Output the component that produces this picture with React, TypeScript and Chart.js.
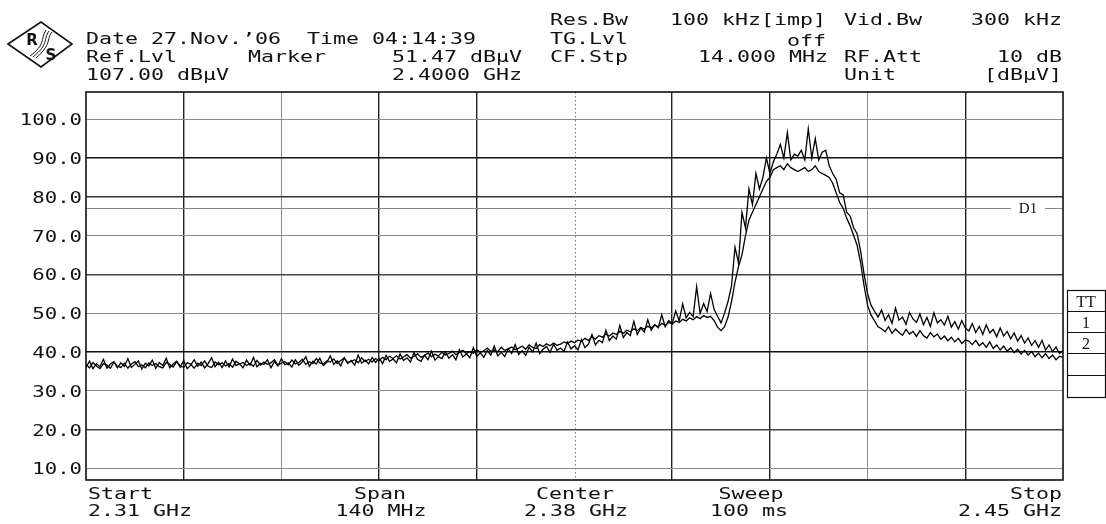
import React, { useEffect, useRef } from 'react';
import { Chart, registerables } from 'chart.js';
Chart.register(...registerables);

// ---- data (dBµV) ----
const FREQ_START = 2310; // MHz
const FREQ_STOP = 2450; // MHz
const X_GRID = [2310, 2324, 2338, 2352, 2366, 2380, 2394, 2408, 2422, 2436, 2450];
const Y_TICKS = [10, 20, 30, 40, 50, 60, 70, 80, 90, 100];
const Y_MIN = 7;
const Y_MAX = 107;
const D1_LEVEL = 77;

const TRACE_1 = [
  // 2310 - 2352 MHz
  36.0, 37.6, 35.7, 37.0, 36.2, 38.1, 35.8, 36.9, 37.5, 35.9, 37.2, 36.3, 38.3, 36.0, 36.8, 37.7, 35.6, 37.1, 36.4, 37.9,
  35.8, 37.3, 36.5, 38.4, 35.9, 36.9, 37.6, 36.1, 37.8, 35.7, 36.6, 38.0, 36.3, 37.4, 35.9, 37.0, 38.5, 36.2, 37.3, 36.0,
  37.7, 36.1, 38.2, 36.5, 37.0, 35.9, 37.9, 36.6, 38.6, 36.2, 37.1, 36.8, 38.0, 35.9, 37.5, 36.4, 38.3, 36.7, 37.2, 36.1,
  38.0, 36.6, 37.4, 38.8, 36.3, 37.6, 36.9, 38.4, 36.5, 37.3, 39.0, 36.8, 37.7, 36.4, 38.5, 37.0, 37.8, 36.6, 39.2, 37.1,
  37.9, 36.9, 38.6, 37.3,
  // 2352 - 2380 MHz
  38.4, 37.0, 39.1, 37.6, 38.2, 37.2, 39.5, 37.8, 38.5, 37.4, 39.8, 38.1, 37.6, 39.2, 38.0, 40.2, 37.9, 38.8, 38.3, 40.0,
  38.4, 39.3, 38.0, 40.6, 38.7, 39.5, 38.5, 41.1, 38.9, 39.8, 38.6, 40.4, 39.2, 41.5, 39.0, 39.9, 38.8, 40.8, 39.6, 41.9,
  39.4, 40.3, 39.1, 41.2, 40.0, 42.3, 39.6, 40.7, 41.4, 39.9, 42.0, 40.4, 41.0, 40.2, 42.6, 40.8,
  // 2380 - 2394 MHz
  41.6, 40.5, 43.2, 41.1, 42.0, 44.5, 41.8, 43.0, 42.4, 45.6, 42.9, 44.1, 43.3, 46.8, 43.7, 45.0, 44.2, 47.9, 44.5, 46.2,
  45.1, 48.3, 45.6, 47.0, 46.2, 49.6, 46.5, 48.1,
  // 2394 - 2401 MHz
  47.3, 50.6, 48.0, 52.4, 48.8, 50.2, 49.1, 56.8, 49.9, 52.5, 50.4, 55.1, 51.0, 49.2, 47.5,
  // rise
  50.0, 53.0, 57.0, 67.0, 63.0, 76.0, 72.0, 82.0, 78.0, 86.0, 82.0, 85.0, 90.0, 86.0, 89.0, 91.0,
  // top
  93.5, 90.0, 96.5, 89.5, 91.0, 90.5, 92.0, 89.5, 97.5, 90.0, 95.0, 89.5, 91.5, 92.0,
  // fall
  88.0, 86.0, 84.5, 81.0, 80.5, 76.0, 75.0, 72.0, 70.5, 66.0, 60.0, 55.0, 52.0, 50.5, 49.0,
  // 2424 - 2450 MHz
  50.8, 48.1, 49.6, 47.4, 51.3, 48.2, 49.0, 47.1, 50.2, 48.5, 47.6, 49.8, 47.0, 48.9, 46.6, 50.1, 47.5, 48.3, 46.9, 49.2,
  46.4, 47.8, 45.9, 48.1, 46.2, 45.4, 47.3, 45.0, 46.6, 44.5, 47.0, 44.9, 45.8, 43.9, 46.2, 44.1, 45.3, 43.4, 44.9, 42.8,
  44.2, 42.3, 43.6, 41.7, 42.9, 41.2, 43.0, 40.5, 41.8, 40.1, 41.3, 39.6, 40.4,
];

const TRACE_2 = [
  // 2310 - 2352 MHz
  36.8, 35.9, 37.3, 36.4, 35.7, 37.0, 36.6, 35.8, 37.4, 36.3, 36.0, 37.1, 35.8, 36.9, 37.5, 36.2, 36.7, 35.9, 37.2, 36.5,
  37.0, 36.2, 35.9, 37.3, 36.8, 36.1, 37.5, 36.4, 36.0, 37.2, 36.9, 35.8, 37.1, 36.5, 37.7, 36.3, 36.0, 37.4, 36.7, 37.2,
  36.4, 37.0, 36.1, 37.6, 36.9, 37.3, 36.5, 37.1, 36.3, 37.8, 36.6, 37.4, 36.8, 37.2, 38.0, 36.6, 37.1, 37.5, 36.7, 37.9,
  36.9, 37.3, 38.1, 36.8, 37.5, 37.0, 38.3, 37.2, 36.9, 37.7, 37.4, 38.2, 37.0, 37.8, 38.4, 37.3, 37.6, 38.0, 37.2, 38.5,
  37.5, 38.1, 37.4, 38.3,
  // 2352 - 2380 MHz
  37.8, 38.6, 38.0, 38.9, 38.3, 39.0, 38.2, 38.7, 39.3, 38.4, 38.9, 39.5, 38.6, 39.1, 39.7, 38.8, 39.4, 39.0, 39.9, 39.2,
  39.6, 40.2, 39.3, 39.9, 40.4, 39.6, 40.1, 39.7, 40.6, 39.9, 40.3, 41.0, 40.1, 40.5, 40.0, 41.2, 40.4, 40.8, 41.3, 40.6,
  41.0, 41.5, 40.7, 41.8, 41.2, 40.9, 41.9, 41.4, 42.1, 41.6, 42.3, 41.7, 42.0, 42.6, 42.2, 42.8,
  // 2380 - 2394 MHz
  42.4, 43.1, 42.7, 43.5, 43.0, 43.9, 43.3, 44.2, 43.8, 44.6, 44.1, 44.9, 44.5, 45.3, 44.8, 45.6, 45.2, 46.0, 45.5, 46.3,
  45.9, 46.6, 46.2, 47.0, 46.5, 47.3, 46.9, 47.6,
  // 2394 - 2401 MHz
  47.2, 48.0, 47.6, 48.4, 48.0, 48.8, 48.3, 49.1, 48.6, 49.4, 48.9, 49.2, 48.1, 46.4, 45.5,
  // rise
  46.5, 49.0, 53.0, 58.0, 62.0, 65.0, 70.0, 74.0, 76.0, 78.0, 80.0, 82.0, 84.0, 85.0, 87.0, 87.5,
  // top
  88.0, 87.0, 88.5, 87.5, 87.0, 86.5, 87.0, 87.5, 86.5, 87.0, 88.0, 86.5, 86.0, 85.5,
  // fall
  85.0, 83.5, 81.0, 78.5, 77.0, 74.5, 72.5, 70.0, 67.5, 63.0, 57.0, 52.0, 49.5, 48.0, 46.5,
  // 2424 - 2450 MHz
  46.0, 45.2, 46.5, 44.8, 45.9, 45.0, 44.3, 45.8, 44.6, 45.3, 44.0, 45.5, 44.2, 43.6, 45.0, 43.9, 44.6, 43.3, 44.1, 42.9,
  43.8, 42.6, 43.5, 42.2, 43.1, 42.8, 41.9, 43.0, 41.6, 42.4, 41.2, 42.6, 40.9, 41.8, 40.5, 41.5, 40.2, 41.1, 39.8, 40.7,
  39.5, 40.4, 39.2, 40.1, 38.8, 39.7, 38.5, 39.6, 38.3, 39.2, 38.0, 38.9, 38.6,
];

const HEADER_TEXT = {
  date: 'Date 27.Nov.’06  Time 04:14:39',
  refLvl: 'Ref.Lvl',
  refVal: '107.00 dBµV',
  marker: 'Marker',
  markerLvl: '51.47 dBµV',
  markerFreq: '2.4000 GHz',
  resBw: 'Res.Bw',
  resBwVal: '100 kHz[imp]',
  vidBw: 'Vid.Bw',
  vidBwVal: '300 kHz',
  tgLvl: 'TG.Lvl',
  tgVal: 'off',
  cfStp: 'CF.Stp',
  cfVal: '14.000 MHz',
  rfAtt: 'RF.Att',
  rfVal: '10 dB',
  unit: 'Unit',
  unitVal: '[dBµV]',
};
const FOOTER_TEXT = [
  ['Start', '2.31 GHz'],
  ['Span', '140 MHz'],
  ['Center', '2.38 GHz'],
  ['Sweep', '100 ms'],
  ['Stop', '2.45 GHz'],
];
const TRACE_TABLE = ['TT', '1', '2', '', ''];

const MONO = '"DejaVu Sans Mono", monospace';
const SERIF = '"Liberation Serif", "DejaVu Serif", serif';

function txt(ctx: CanvasRenderingContext2D, s: string, x: number, y: number, align: CanvasTextAlign = 'left', sx = 1.35, size = 16) {
  ctx.save();
  ctx.font = `${size}px ${MONO}`;
  ctx.fillStyle = '#111';
  ctx.textAlign = align;
  ctx.textBaseline = 'alphabetic';
  ctx.scale(sx, 1);
  ctx.fillText(s, x / sx, y);
  ctx.restore();
}

const decorPlugin = {
  id: 'decor',
  beforeDatasetsDraw(chart: any) {
    const { ctx, chartArea: a, scales } = chart;
    ctx.save();
    const cx = scales.x.getPixelForValue(X_GRID[5]);
    ctx.strokeStyle = '#777';
    ctx.lineWidth = 1;
    ctx.setLineDash([1.5, 2.5]);
    ctx.beginPath();
    ctx.moveTo(Math.round(cx) + 0.5, a.top);
    ctx.lineTo(Math.round(cx) + 0.5, a.bottom);
    ctx.stroke();
    ctx.setLineDash([]);
    const dy = Math.round(scales.y.getPixelForValue(D1_LEVEL)) + 0.5;
    ctx.strokeStyle = '#888';
    ctx.lineWidth = 1.2;
    ctx.beginPath();
    ctx.moveTo(a.left, dy);
    ctx.lineTo(1011, dy);
    ctx.moveTo(1045, dy);
    ctx.lineTo(a.right, dy);
    ctx.stroke();
    ctx.font = `15px ${SERIF}`;
    ctx.fillStyle = '#111';
    ctx.textAlign = 'center';
    ctx.textBaseline = 'middle';
    ctx.fillText('D1', 1028, dy + 1);
    ctx.restore();
  },
  afterDraw(chart: any) {
    const { ctx, chartArea: a, scales } = chart;
    ctx.save();
    ctx.strokeStyle = '#111';
    ctx.lineWidth = 1.6;
    ctx.strokeRect(a.left, a.top, a.right - a.left, a.bottom - a.top);

    scales.y.ticks.forEach((t: any) => {
      const py = scales.y.getPixelForValue(t.value);
      txt(ctx, t.value.toFixed(1), 82, py + 6, 'right', 1.29);
    });

    const H = HEADER_TEXT;
    const r1 = 25, r2 = 44, r3 = 62, r4 = 80;
    txt(ctx, H.resBw, 550, r1);
    txt(ctx, H.resBwVal, 826, r1, 'right');
    txt(ctx, H.vidBw, 844, r1);
    txt(ctx, H.vidBwVal, 1062, r1, 'right');
    txt(ctx, H.date, 86, r2);
    txt(ctx, H.tgLvl, 550, r2);
    txt(ctx, H.tgVal, 826, r2 + 2, 'right');
    txt(ctx, H.refLvl, 86, r3);
    txt(ctx, H.marker, 248, r3);
    txt(ctx, H.markerLvl, 522, r3, 'right');
    txt(ctx, H.cfStp, 550, r3);
    txt(ctx, H.cfVal, 828, r3, 'right');
    txt(ctx, H.rfAtt, 844, r3);
    txt(ctx, H.rfVal, 1062, r3, 'right');
    txt(ctx, H.refVal, 86, r4);
    txt(ctx, H.markerFreq, 522, r4, 'right');
    txt(ctx, H.unit, 844, r4);
    txt(ctx, H.unitVal, 1062, r4, 'right');

    const f1 = 499, f2 = 516;
    txt(ctx, FOOTER_TEXT[0][0], 88, f1);
    txt(ctx, FOOTER_TEXT[0][1], 88, f2);
    txt(ctx, FOOTER_TEXT[1][0], 380, f1, 'center');
    txt(ctx, FOOTER_TEXT[1][1], 381, f2, 'center');
    txt(ctx, FOOTER_TEXT[2][0], 575, f1, 'center');
    txt(ctx, FOOTER_TEXT[2][1], 576, f2, 'center');
    txt(ctx, FOOTER_TEXT[3][0], 751, f1, 'center');
    txt(ctx, FOOTER_TEXT[3][1], 749, f2, 'center');
    txt(ctx, FOOTER_TEXT[4][0], 1062, f1, 'right');
    txt(ctx, FOOTER_TEXT[4][1], 1062, f2, 'right');

    const tx = 1067, tw = 38, rows = [290, 311, 332, 353, 375, 397];
    ctx.strokeStyle = '#111';
    ctx.lineWidth = 1.2;
    ctx.strokeRect(tx + 0.5, rows[0] + 0.5, tw, rows[5] - rows[0]);
    ctx.lineWidth = 1;
    for (let i = 1; i < 5; i++) {
      ctx.beginPath();
      ctx.moveTo(tx, rows[i] + 0.5);
      ctx.lineTo(tx + tw, rows[i] + 0.5);
      ctx.stroke();
    }
    ctx.font = `16px ${SERIF}`;
    ctx.fillStyle = '#111';
    ctx.textAlign = 'center';
    ctx.textBaseline = 'alphabetic';
    TRACE_TABLE.forEach((s, i) => {
      if (s) ctx.fillText(s, tx + tw / 2, rows[i + 1] - 4);
    });

    ctx.strokeStyle = '#111';
    ctx.lineWidth = 1.6;
    ctx.beginPath();
    ctx.moveTo(8, 44);
    ctx.lineTo(41, 22);
    ctx.lineTo(72, 44);
    ctx.lineTo(41, 67);
    ctx.closePath();
    ctx.stroke();
    ctx.font = `bold 15px "DejaVu Sans", sans-serif`;
    ctx.fillStyle = '#111';
    ctx.textAlign = 'center';
    ctx.fillText('R', 32, 45);
    ctx.fillText('S', 51, 60);
    ctx.lineWidth = 1;
    for (let k = 0; k < 3; k++) {
      ctx.beginPath();
      ctx.moveTo(46 + k * 3, 30 + k);
      ctx.bezierCurveTo(40 + k * 3, 40, 46 + k * 3, 44, 30 + k * 3, 56 + k);
      ctx.stroke();
    }
    ctx.restore();
  },
};

export default function App() {
  const ref = useRef<HTMLCanvasElement>(null);
  useEffect(() => {
    const canvas = ref.current!;
    const n = TRACE_1.length;
    const step = (FREQ_STOP - FREQ_START) / (n - 1);
    const pts = (arr: number[]) => arr.map((v, i) => ({ x: FREQ_START + i * step, y: v }));
    const yColor: Record<number, string> = { 100: '#8c8c8c', 90: '#111', 80: '#333', 70: '#8c8c8c', 60: '#444', 50: '#8c8c8c', 40: '#111', 30: '#8c8c8c', 20: '#444', 10: '#8c8c8c' };
    const xColor = (v: number) => {
      if (v === X_GRID[0] || v === X_GRID[10] || v === X_GRID[5]) return 'rgba(0,0,0,0)';
      if (v === X_GRID[2] || v === X_GRID[8]) return '#8c8c8c';
      return '#222';
    };
    const chart = new Chart(canvas, {
      type: 'line',
      data: {
        datasets: [
          { label: '1', data: pts(TRACE_1), borderColor: '#000', borderWidth: 1.3, pointRadius: 0, tension: 0 },
          { label: '2', data: pts(TRACE_2), borderColor: '#000', borderWidth: 1.3, pointRadius: 0, tension: 0 },
        ],
      },
      options: {
        responsive: false,
        animation: false,
        devicePixelRatio: 1,
        layout: { padding: { left: 0, right: 43, top: 92, bottom: 44 } },
        plugins: { legend: { display: false }, tooltip: { enabled: false } },
        scales: {
          x: {
            type: 'linear',
            min: FREQ_START,
            max: FREQ_STOP,
            afterBuildTicks: (s: any) => { s.ticks = X_GRID.map((v) => ({ value: v })); },
            afterFit: (s: any) => { s.height = 0; },
            ticks: { display: false },
            border: { display: false },
            grid: {
              drawTicks: false,
              color: (c: any) => xColor(c.tick?.value),
              lineWidth: (c: any) => (c.tick?.value === X_GRID[2] || c.tick?.value === X_GRID[8] ? 1 : 1.4),
            },
          },
          y: {
            type: 'linear',
            min: Y_MIN,
            max: Y_MAX,
            afterBuildTicks: (s: any) => { s.ticks = Y_TICKS.map((v) => ({ value: v })); },
            afterFit: (s: any) => { s.width = 86; },
            ticks: { display: false },
            border: { display: false },
            grid: {
              drawTicks: false,
              color: (c: any) => yColor[c.tick?.value] || '#8c8c8c',
              lineWidth: (c: any) => (yColor[c.tick?.value] === '#8c8c8c' ? 1.1 : 1.5),
            },
          },
        },
      },
      plugins: [decorPlugin],
    } as any);
    return () => chart.destroy();
  }, []);
  return (
    <div style={{ position: 'fixed', left: 0, top: 0, width: 1106, height: 524, background: '#fff' }}>
      <canvas ref={ref} width={1106} height={524} style={{ display: 'block' }} />
    </div>
  );
}
